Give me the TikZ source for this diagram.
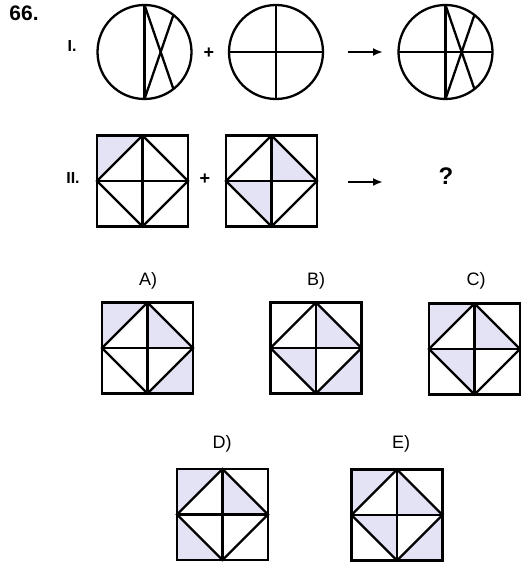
\documentclass[tikz,border=0pt]{standalone}
\usepackage{fontspec}
\setmainfont{Liberation Sans}
\usetikzlibrary{arrows.meta}
\definecolor{shadecol}{RGB}{228,226,245}
\newcommand\hs{45.5}
\newcommand\shOTL{\fill[shadecol] (-\hs,-\hs) -- (0,-\hs) -- (-\hs,0) -- cycle;}
\newcommand\shOTR{\fill[shadecol] (\hs,-\hs) -- (0,-\hs) -- (\hs,0) -- cycle;}
\newcommand\shOBL{\fill[shadecol] (-\hs,\hs) -- (-\hs,0) -- (0,\hs) -- cycle;}
\newcommand\shOBR{\fill[shadecol] (\hs,\hs) -- (\hs,0) -- (0,\hs) -- cycle;}
\newcommand\shITR{\fill[shadecol] (0,0) -- (0,-\hs) -- (\hs,0) -- cycle;}
\newcommand\shIBL{\fill[shadecol] (0,0) -- (-\hs,0) -- (0,\hs) -- cycle;}
\tikzset{
  fig/.style={line width=2.3pt, line join=miter},
  sq/.pic={
    #1
    \draw[fig] (-\hs,-\hs) rectangle (\hs,\hs);
    \draw[fig] (0,-\hs) -- (\hs,0) -- (0,\hs) -- (-\hs,0) -- cycle;
    \draw[fig] (0,-\hs) -- (0,\hs);
    \draw[fig] (-\hs,0) -- (\hs,0);
  },
  arr/.style={line width=2pt, -{Latex[length=10pt,width=8pt]}},
  lab/.style={font=\fontsize{18}{18}\selectfont, inner sep=0pt},
  bold/.style={font=\bfseries\fontsize{#1}{#1}\selectfont, inner sep=0pt},
}
\begin{document}
\begin{tikzpicture}[x=1pt,y=-1pt]
\path[use as bounding box, fill=white] (0,0) rectangle (521,564);

% headings
\node[bold=21] (num) at (24,13) {66.};
\node[bold=16] (r1) at (72,46) {I.};
\node[bold=16] (r2) at (73,178) {II.};

% row I
\draw[fig] (144.5,52) circle[radius=47];
\draw[fig] (144.5,5) -- (144.5,99);
\draw[fig] (144.5,5) -- (173.4,89);
\draw[fig] (144.5,99) -- (173.4,15);
\node[bold=18] (p1) at (209,53) {+};
\draw[fig] (276,52) circle[radius=47];
\draw[fig] (276,5) -- (276,99);
\draw[fig] (229,52) -- (323,52);
\coordinate (a1s) at (348,52);
\coordinate (a1e) at (383,52);
\draw[arr] (a1s) -- (a1e);
\draw[fig] (445.5,52) circle[radius=47];
\draw[fig] (445.5,5) -- (445.5,99);
\draw[fig] (398.5,52) -- (492.5,52);
\draw[fig] (445.5,5) -- (474.4,89);
\draw[fig] (445.5,99) -- (474.4,15);

% row II
\pic at (142.5,181) {sq={\shOTL}};
\node[bold=18] (p2) at (205,179) {+};
\pic at (271.5,181) {sq={\shITR\shIBL}};
\coordinate (a2s) at (348,182);
\coordinate (a2e) at (383,182);
\draw[arr] (a2s) -- (a2e);
\node[bold=24] (q) at (446,176) {?};

% options
\node[lab] (la) at (148,281) {A)};
\pic at (147.5,348) {sq={\shOTL\shITR\shOBR}};
\node[lab] (lb) at (316,281) {B)};
\pic at (316,348) {sq={\shITR\shIBL\shOBR}};
\node[lab] (lc) at (476,281) {C)};
\pic at (474.5,349) {sq={\shOTL\shITR\shIBL}};
\node[lab] (ld) at (222,444) {D)};
\pic at (222.5,514.5) {sq={\shOTL\shITR\shOBL}};
\node[lab] (le) at (401,444) {E)};
\pic at (397,515) {sq={\shOTL\shITR\shIBL\shOBR}};
\end{tikzpicture}
\end{document}
